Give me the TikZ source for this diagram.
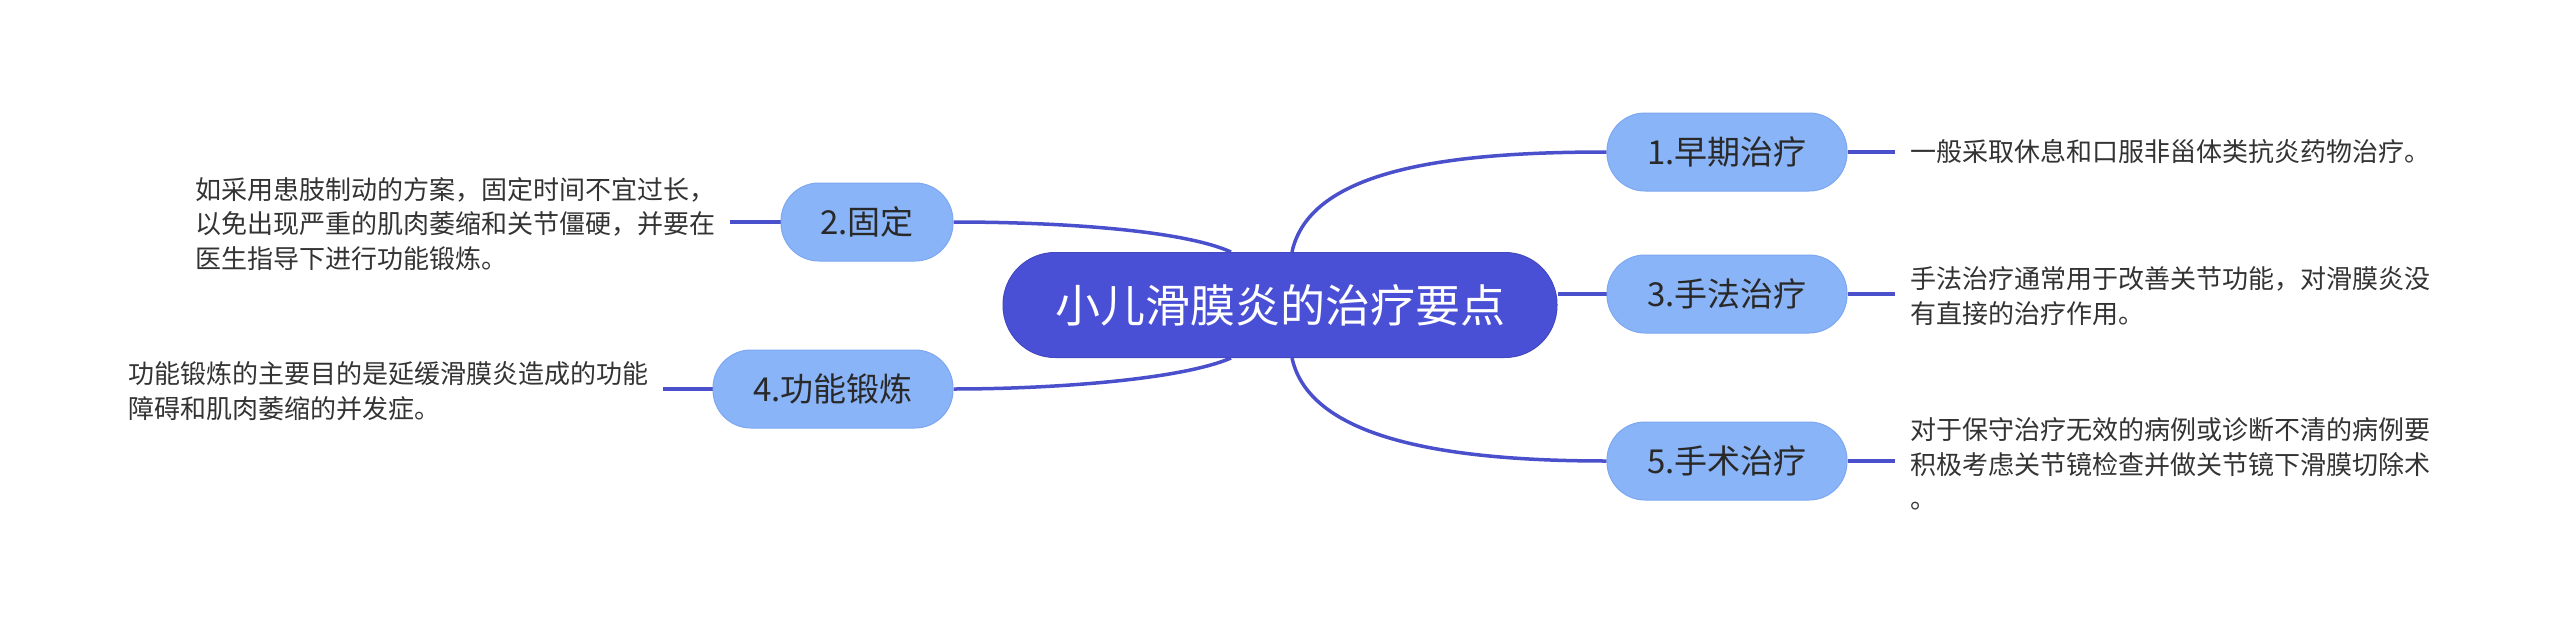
\documentclass[tikz,border=0pt]{standalone}
\usepackage{fontspec}
\setmainfont{Noto Sans CJK SC}
\usetikzlibrary{calc,backgrounds}
\definecolor{mainblue}{HTML}{4A50D6}
\definecolor{subblue}{HTML}{8AB4F8}
\definecolor{subedge}{HTML}{7DA7F0}
\definecolor{linkblue}{HTML}{4A4FCC}
\definecolor{txt}{HTML}{333333}
\tikzset{
  rootnode/.style={fill=mainblue, draw=mainblue!90!black, line width=1pt, rounded corners=52pt, minimum width=554pt, minimum height=105pt, inner sep=0pt, text=white, font=\fontsize{45}{54}\selectfont},
  topicnode/.style={fill=subblue, draw=subedge, line width=1pt, rounded corners=38pt, minimum height=78pt, inner sep=0pt, text=txt!80!black, font=\fontsize{33}{38}\selectfont},
  notetext/.style={inner sep=0pt, text=txt, font=\fontsize{26}{34.5}\selectfont, align=left},
  link/.style={draw=linkblue, line width=3.5pt},
}
\begin{document}
\begin{tikzpicture}[x=1pt,y=-1pt]
\useasboundingbox (0,0) rectangle (2560,637);
% nodes
\node[rootnode] (c) at (1280,305) {小儿滑膜炎的治疗要点};
\node[topicnode, minimum width=240pt] (n1) at (1727,152) {1.早期治疗};
\node[topicnode, minimum width=240pt] (n3) at (1727,294) {3.手法治疗};
\node[topicnode, minimum width=240pt] (n5) at (1727,461) {5.手术治疗};
\node[topicnode, minimum width=172pt] (n2) at (867,222) {2.固定};
\node[topicnode, minimum width=240pt] (n4) at (833,389) {4.功能锻炼};
% notes
\node[notetext, anchor=west] (t1) at (1910,152) {一般采取休息和口服非甾体类抗炎药物治疗。};
\node[notetext, anchor=west] (t3) at (1910,296) {手法治疗通常用于改善关节功能，对滑膜炎没\\有直接的治疗作用。};
\node[notetext, anchor=west] (t5) at (1910,464) {对于保守治疗无效的病例或诊断不清的病例要\\积极考虑关节镜检查并做关节镜下滑膜切除术\\。};
\node[notetext, anchor=west] (t2) at (195,224) {如采用患肢制动的方案，固定时间不宜过长，\\以免出现严重的肌肉萎缩和关节僵硬，并要在\\医生指导下进行功能锻炼。};
\node[notetext, anchor=west] (t4) at (128,391) {功能锻炼的主要目的是延缓滑膜炎造成的功能\\障碍和肌肉萎缩的并发症。};
% short link ends
\coordinate (e1) at (1895,152);
\coordinate (e3) at (1895,294);
\coordinate (e5) at (1895,461);
\coordinate (e2) at (730,222);
\coordinate (e4) at (663,389);
\begin{scope}[on background layer]
\fill[white] (0,0) rectangle (2560,637);
\draw[link] ($(c.north)+(12,0)$) .. controls ($(c.north)+(30,-83)$) and (1450,152) .. (n1.west);
\draw[link] ($(c.south)+(12,0)$) .. controls ($(c.south)+(30,82)$) and (1450,461) .. (n5.west);
\draw[link] (n3.west) -- (n3.west -| c.east);
\draw[link] ($(c.north)+(-49,0)$) .. controls ($(c.north)+(-100,-23)$) and (1050,222) .. (n2.east);
\draw[link] ($(c.south)+(-49,0)$) .. controls ($(c.south)+(-100,22)$) and (1050,389) .. (n4.east);
\draw[link] (n1.east) -- (e1);
\draw[link] (n3.east) -- (e3);
\draw[link] (n5.east) -- (e5);
\draw[link] (n2.west) -- (e2);
\draw[link] (n4.west) -- (e4);
\end{scope}
\end{tikzpicture}
\end{document}
